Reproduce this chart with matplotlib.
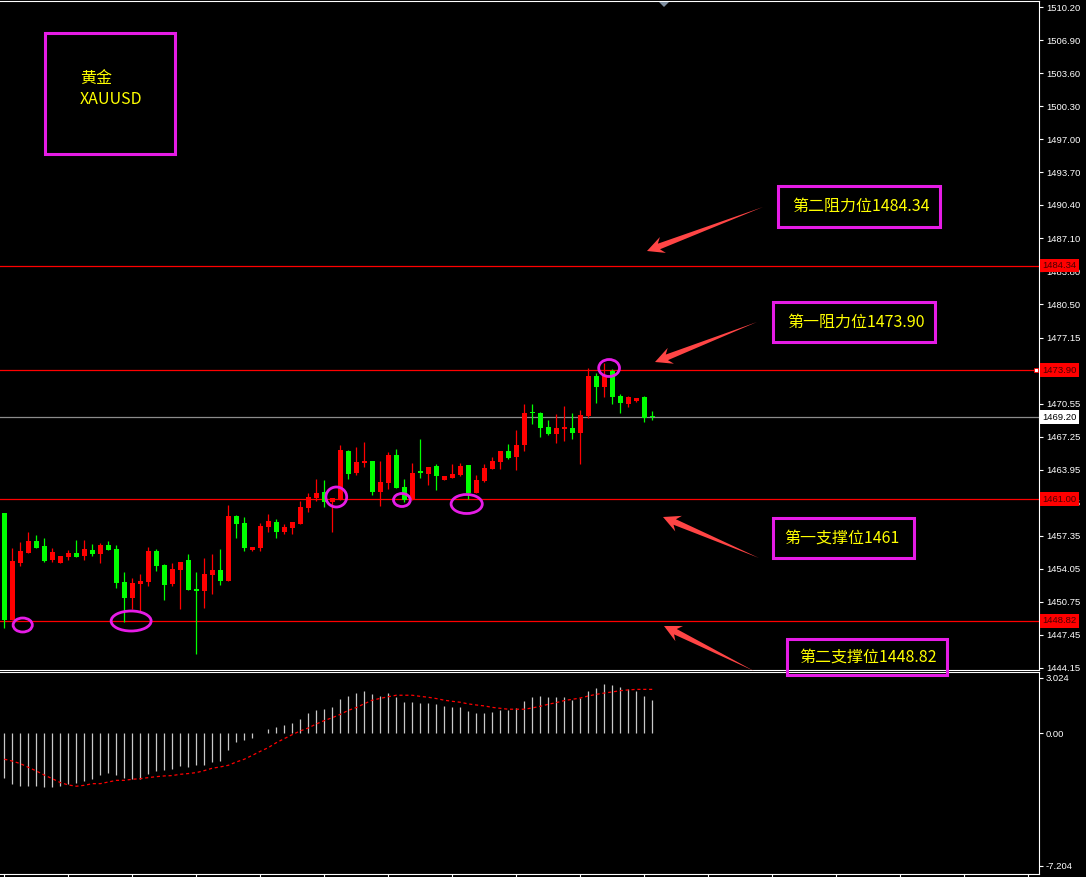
import matplotlib
matplotlib.use("Agg")
import matplotlib.pyplot as plt
import matplotlib.transforms as mtransforms
from matplotlib.patches import Rectangle, Ellipse, Polygon
import numpy as np

plt.rcParams['font.family'] = ['Noto Sans CJK SC', 'DejaVu Sans']

# XAUUSD candles, oldest first
opens = [1459.6, 1448.9, 1454.6, 1455.6, 1456.8, 1456.3, 1454.9, 1454.6, 1455.2, 1455.6,
         1455.3, 1455.9, 1455.5, 1456.4, 1456.0, 1452.7, 1451.1, 1452.5, 1452.7, 1455.8,
         1454.4, 1452.5, 1453.9, 1454.9, 1452.0, 1451.8, 1453.4, 1453.9, 1452.8, 1459.3,
         1458.6, 1455.9, 1456.1, 1458.2, 1458.7, 1457.7, 1458.1, 1458.5, 1460.1, 1461.1,
         1461.7, 1460.7, 1460.9, 1465.8, 1463.6, 1464.6, 1464.8, 1461.7, 1462.6, 1465.4,
         1462.2, 1460.9, 1463.8, 1463.5, 1464.3, 1462.9, 1463.1, 1463.4, 1464.4, 1461.6,
         1462.8, 1464.0, 1464.7, 1465.8, 1465.2, 1466.4, 1469.7, 1469.6, 1468.2, 1467.5,
         1468.0, 1468.1, 1467.6, 1469.3, 1473.3, 1472.2, 1473.8, 1471.3, 1470.5, 1470.8,
         1471.2, 1469.25]
highs = [1459.6, 1456.1, 1456.7, 1457.7, 1457.4, 1457.1, 1456.1, 1455.3, 1455.9, 1456.9,
         1456.9, 1456.5, 1456.6, 1456.8, 1456.4, 1453.7, 1453.1, 1453.5, 1456.2, 1456.0,
         1454.5, 1454.6, 1454.7, 1455.5, 1453.7, 1455.1, 1455.5, 1456.0, 1460.4, 1459.4,
         1459.2, 1456.2, 1458.6, 1459.5, 1459.0, 1458.5, 1458.7, 1460.8, 1461.6, 1463.0,
         1462.9, 1461.1, 1466.4, 1465.9, 1466.2, 1466.7, 1464.8, 1464.8, 1465.7, 1466.0,
         1463.0, 1464.6, 1467.0, 1464.2, 1464.5, 1463.3, 1464.5, 1464.6, 1464.4, 1463.4,
         1464.5, 1465.2, 1465.8, 1466.5, 1467.9, 1470.5, 1470.5, 1469.7, 1468.9, 1469.5,
         1470.3, 1469.6, 1469.9, 1474.1, 1473.6, 1474.6, 1474.0, 1471.5, 1471.3, 1471.1,
         1471.3, 1469.8]
lows = [1448.1, 1448.9, 1454.3, 1455.6, 1456.1, 1454.7, 1454.7, 1454.6, 1454.9, 1455.2,
        1454.9, 1455.3, 1454.6, 1455.9, 1452.1, 1448.7, 1450.0, 1449.7, 1452.3, 1453.8,
        1450.9, 1452.3, 1450.0, 1451.9, 1445.5, 1450.1, 1451.5, 1452.4, 1452.8, 1457.1,
        1455.8, 1455.8, 1455.8, 1457.7, 1457.1, 1457.5, 1457.5, 1458.5, 1459.7, 1460.8,
        1460.2, 1457.7, 1460.9, 1463.0, 1463.4, 1464.2, 1461.4, 1460.3, 1462.0, 1462.1,
        1460.7, 1460.9, 1463.1, 1462.4, 1461.9, 1462.9, 1463.1, 1463.3, 1461.0, 1461.6,
        1462.7, 1464.0, 1464.0, 1465.0, 1463.9, 1465.8, 1468.5, 1467.2, 1467.4, 1466.6,
        1466.8, 1467.0, 1464.5, 1469.1, 1470.6, 1471.2, 1470.5, 1469.6, 1470.2, 1470.7,
        1468.7, 1468.9]
closes = [1448.9, 1454.8, 1455.8, 1456.8, 1456.1, 1454.8, 1455.7, 1455.3, 1455.6, 1455.2,
          1456.0, 1455.5, 1456.4, 1455.9, 1452.6, 1451.1, 1452.6, 1452.8, 1455.8, 1454.3,
          1452.4, 1454.0, 1454.7, 1451.9, 1451.8, 1453.5, 1453.9, 1452.8, 1459.3, 1458.5,
          1456.1, 1456.2, 1458.3, 1458.8, 1457.7, 1458.2, 1458.7, 1460.2, 1461.2, 1461.6,
          1460.7, 1461.1, 1465.9, 1463.5, 1464.7, 1464.8, 1461.7, 1462.7, 1465.4, 1462.1,
          1460.9, 1463.6, 1463.6, 1464.2, 1463.3, 1463.3, 1463.5, 1464.3, 1461.6, 1462.9,
          1464.1, 1464.8, 1465.8, 1465.1, 1466.4, 1469.6, 1469.6, 1468.1, 1467.5, 1468.1,
          1468.2, 1467.6, 1469.4, 1473.3, 1472.2, 1473.4, 1471.2, 1470.6, 1471.2, 1471.1,
          1469.1, 1469.2]

# MACD sub-window
macd_hist = [-2.41, -2.74, -2.87, -2.87, -2.87, -2.90, -2.90, -2.87, -2.77, -2.68,
             -2.58, -2.48, -2.25, -2.14, -2.25, -2.45, -2.48, -2.48, -2.21, -2.03,
             -1.99, -1.92, -1.78, -1.85, -1.74, -1.70, -1.54, -1.49, -0.89, -0.45,
             -0.34, -0.24, 0.02, 0.24, 0.36, 0.47, 0.58, 0.78, 1.09, 1.27,
             1.34, 1.43, 1.87, 2.03, 2.19, 2.30, 2.14, 2.03, 2.19, 1.98,
             1.70, 1.70, 1.65, 1.65, 1.60, 1.49, 1.43, 1.43, 1.22, 1.11,
             1.11, 1.16, 1.27, 1.27, 1.38, 1.76, 1.98, 2.03, 1.98, 1.98,
             1.98, 1.81, 1.92, 2.30, 2.47, 2.68, 2.63, 2.52, 2.41, 2.30,
             2.03, 1.81]
macd_signal = [-1.41, -1.51, -1.65, -1.85, -2.05, -2.27, -2.47, -2.68, -2.81, -2.88,
               -2.83, -2.74, -2.74, -2.65, -2.56, -2.56, -2.50, -2.47, -2.41, -2.36,
               -2.32, -2.30, -2.23, -2.19, -2.14, -2.03, -1.90, -1.83, -1.74, -1.56,
               -1.41, -1.20, -0.98, -0.78, -0.51, -0.29, -0.07, 0.13, 0.29, 0.51,
               0.69, 0.85, 1.03, 1.25, 1.40, 1.61, 1.80, 1.90, 1.99, 2.07,
               2.07, 2.07, 2.01, 1.96, 1.89, 1.80, 1.74, 1.69, 1.60, 1.54,
               1.49, 1.41, 1.36, 1.31, 1.31, 1.31, 1.38, 1.47, 1.58, 1.67,
               1.78, 1.85, 1.92, 2.03, 2.12, 2.19, 2.25, 2.32, 2.36, 2.39,
               2.39, 2.39]

price_ticks = [1510.20, 1506.90, 1503.60, 1500.30, 1497.00, 1493.70, 1490.40, 1487.10,
               1483.80, 1480.50, 1477.15, 1473.90, 1470.55, 1467.25, 1463.95, 1460.65,
               1457.35, 1454.05, 1450.75, 1447.45, 1444.15]
macd_ticks = [3.024, 0.00, -7.204]
macd_tick_labels = ['3.024', '0.00', '-7.204']

levels = [1484.34, 1473.90, 1461.00, 1448.82]
level_texts = ['第二阻力位1484.34', '第一阻力位1473.90', '第一支撑位1461', '第二支撑位1448.82']
last_price = 1469.20

# marked swing points: (bar, price, width in bars, height in price)
marks = [(2.3, 1448.4, 2.4, 1.4), (15.85, 1448.8, 5.0, 2.0), (41.5, 1461.2, 2.6, 2.0),
         (49.7, 1460.9, 2.1, 1.3), (57.8, 1460.5, 3.9, 1.9), (75.6, 1474.1, 2.6, 1.7)]

W, H = 1086, 877
UP, DOWN = '#ff0000', '#00ff00'
MAGENTA = '#e61ce6'
YELLOW = '#ffff00'
AXFONT = 'Liberation Sans'

fig = plt.figure(figsize=(W / 100, H / 100), dpi=100, facecolor='black')
ax = fig.add_axes([0, (H - 670) / H, 1039 / W, 669 / H], facecolor='black')
ax2 = fig.add_axes([0, 3 / H, 1039 / W, 202 / H], facecolor='black')

for a in (ax, ax2):
    a.set_xlim(-0.54, 129.34)
    for s in ('top', 'right', 'bottom'):
        a.spines[s].set_color('white')
        a.spines[s].set_linewidth(0.8)
    a.spines['left'].set_visible(False)
    a.yaxis.tick_right()
    a.tick_params(axis='y', colors='white', labelsize=6.8, length=3, width=0.8, pad=2,
                  labelfontfamily=AXFONT)
    a.tick_params(axis='x', colors='white', length=3, width=0.8, labelbottom=False)

ax.set_ylim(1443.90, 1510.80)
ax.set_yticks(price_ticks)
# the 1473.90 tick sits under its own level label, so it is left blank
ax.set_yticklabels(['' if v in levels else f'{v:.2f}' for v in price_ticks])
ax.set_xticks([])

ax2.set_ylim(-7.655, 3.335)
ax2.set_yticks(macd_ticks)
ax2.set_yticklabels(macd_tick_labels)
ax2.set_xticks(np.arange(0, 130, 8))

# candles
o = np.array(opens)
c = np.array(closes)
idx = np.arange(len(o))
colors = np.where(c > o, UP, DOWN)
body_lo = np.minimum(o, c)
body_h = np.maximum(np.abs(c - o), 0.12)
ax.vlines(idx, lows, highs, colors=colors, linewidth=0.9, zorder=3)
ax.bar(idx, body_h, bottom=body_lo, width=0.62, color=colors, linewidth=0, zorder=3)

# support / resistance lines and price labels
ytrans = mtransforms.blended_transform_factory(ax.transAxes, ax.transData)
for lv in levels:
    ax.axhline(lv, color='#ff0000', lw=0.9, zorder=2)
    ax.text(1.003, lv, f'{lv:.2f}', transform=ytrans, fontsize=6.8, family=AXFONT,
            color='#4a0000', va='center', ha='left', clip_on=False, zorder=6,
            bbox=dict(boxstyle='square,pad=0.25', fc='#ff0000', ec='none'))
ax.axhline(last_price, color='#8c8c8c', lw=0.9, zorder=2)
ax.text(1.003, last_price, f'{last_price:.2f}', transform=ytrans, fontsize=6.8,
        family=AXFONT, color='black', va='center', ha='left', clip_on=False,
        zorder=6, bbox=dict(boxstyle='square,pad=0.25', fc='white', ec='none'))
ax.plot(129.0, levels[1], 's', ms=3, mfc='white', mec='#ff0000', mew=0.6,
        clip_on=False, zorder=7)

for x, y, w, h in marks:
    ax.add_patch(Ellipse((x, y), w, h, fill=False, ec=MAGENTA, lw=2.0, zorder=5))

# MACD histogram and signal
ax2.vlines(idx, 0, macd_hist, colors='#c8c8c8', linewidth=0.9)
ax2.plot(idx, macd_signal, color='#ff0000', lw=0.9, linestyle=(0, (2.5, 2.2)))

# annotation layer in pixel coordinates
ov = fig.add_axes([0, 0, 1, 1])
ov.set_xlim(0, W)
ov.set_ylim(H, 0)
ov.axis('off')
ov.set_zorder(10)

ov.add_patch(Rectangle((45, 33), 130, 121, fill=False, ec=MAGENTA, lw=2.2))
ov.text(80, 78, '黄金', color=YELLOW, fontsize=11.5, va='center', ha='left')
ov.text(80, 99, 'XAUUSD', color=YELLOW, fontsize=11.5, va='center', ha='left')

label_boxes = [(778, 186, 940, 227, 792), (773, 302, 935, 342, 787),
               (773, 518, 914, 558, 784), (787, 639, 947, 675, 799)]
for (x0, y0, x1, y1, tx), txt in zip(label_boxes, level_texts):
    ov.add_patch(Rectangle((x0, y0), x1 - x0, y1 - y0, fill=False, ec=MAGENTA, lw=2.2))
    ov.text(tx, (y0 + y1) / 2, txt, color=YELLOW, fontsize=11.5, va='center', ha='left')


def arrow_poly(tail, tip, head_len=17, head_w=17, shaft_w=6):
    t = np.array(tail, float)
    p = np.array(tip, float)
    u = (p - t) / np.linalg.norm(p - t)
    n = np.array([-u[1], u[0]])
    barb = p - u * head_len
    neck = p - u * head_len * 0.75
    return [t, neck + n * shaft_w / 2, barb + n * head_w / 2, p,
            barb - n * head_w / 2, neck - n * shaft_w / 2]


arrows = [((763, 207), (647, 251)), ((757, 322), (655, 362)),
          ((759, 558), (663, 517)), ((754, 671), (664, 626))]
for tail, tip in arrows:
    ov.add_patch(Polygon(arrow_poly(tail, tip), closed=True, fc='#ff4545', ec='none'))

# chart shift marker
ov.add_patch(Polygon([(659, 2), (669, 2), (664, 7)], closed=True, fc='#7f8fa0', ec='none'))

fig.savefig('out.png', dpi=100, facecolor='black')
